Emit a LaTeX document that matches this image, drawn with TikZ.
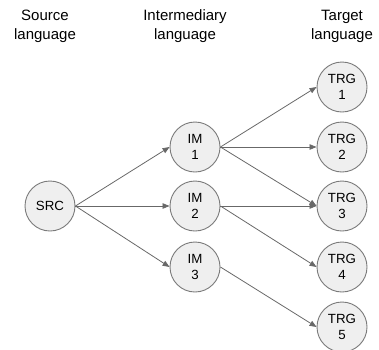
\documentclass[tikz,border=0pt]{standalone}
\usepackage{fontspec}
\setmainfont{Liberation Sans}
\usetikzlibrary{arrows.meta}
\definecolor{nodefill}{HTML}{EFEFEF}
\definecolor{nodeline}{HTML}{7A7A7A}
\definecolor{edgeline}{HTML}{686868}
\tikzset{
  lang/.style={circle, draw=nodeline, fill=nodefill, line width=0.9pt,
    minimum size=50pt, inner sep=0pt, align=center,
    font=\fontsize{13.3pt}{16pt}\selectfont},
  header/.style={align=center, font=\fontsize{15pt}{19pt}\selectfont},
  link/.style={draw=edgeline, line width=0.8pt,
    -{Triangle[length=7pt,width=5.5pt]}}
}
\begin{document}
\begin{tikzpicture}[x=1pt,y=-1pt]
  \useasboundingbox (0,0) rectangle (379,349);
  % column headers
  \node[header] (hsrc) at (45,26) {Source\\language};
  \node[header] (him)  at (185,26) {Intermediary\\language};
  \node[header] (htrg) at (342,26) {Target\\language};
  % nodes
  \node[lang] (src) at (50,206) {SRC};
  \node[lang] (im1) at (195,147) {IM\\1};
  \node[lang] (im2) at (195,206) {IM\\2};
  \node[lang] (im3) at (195,267) {IM\\3};
  \node[lang] (t1) at (342,87)  {TRG\\1};
  \node[lang] (t2) at (342,147) {TRG\\2};
  \node[lang] (t3) at (342,206) {TRG\\3};
  \node[lang] (t4) at (342,267) {TRG\\4};
  \node[lang] (t5) at (342,327) {TRG\\5};
  % connectors
  \foreach \a/\b in {src/im1, src/im2, src/im3,
                     im1/t1, im1/t2, im1/t3,
                     im2/t3, im2/t4, im3/t5}
    \draw[link] (\a.east) -- (\b.west);
\end{tikzpicture}
\end{document}
